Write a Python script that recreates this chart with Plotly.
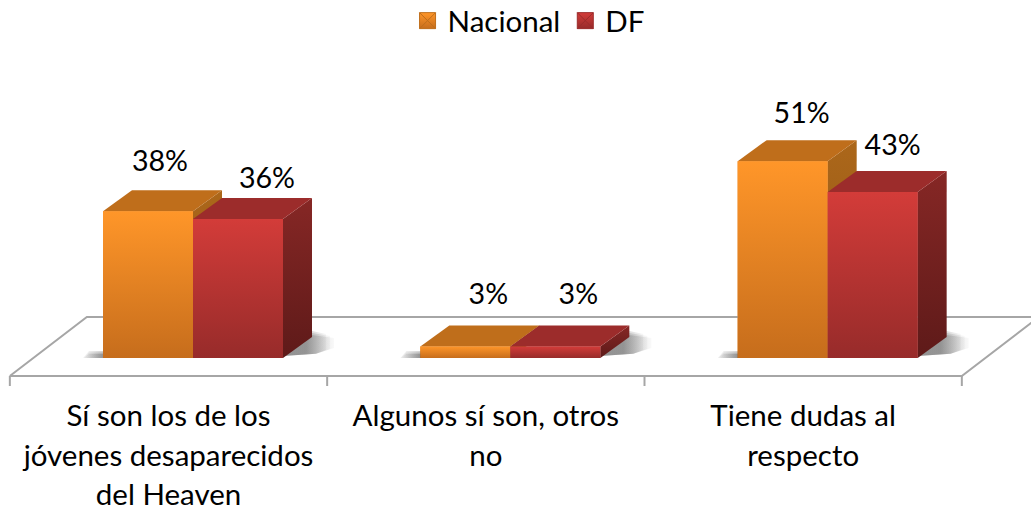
import plotly.graph_objects as go

# ---- data ----
categories = ["Sí son los de los", "jóvenes desaparecidos", "del Heaven"], ["Algunos sí son, otros", "no"], ["Tiene dudas al", "respecto"]
nacional = [38, 3, 51]
df = [36, 3, 43]
series_names = ["Nacional", "DF"]

# ---- chart geometry (pixels of the 1031x505 canvas) ----
W, H = 1031, 505
CELL = 317.33
CENTER0 = 168.5
BASE_PX = 358
PX_PER_V = 3.86
FONT = "Lato"
FS_PX = 29.5

def xu(px):   # pixel length -> x axis units
    return px / CELL
def yu(px):   # pixel length -> y axis units
    return px / PX_PER_V

BAR_W = xu(90)
OFFSET = xu(24.5)
DX, DY = xu(29), yu(21)
x_range = [(0 - CENTER0) / CELL, (W - CENTER0) / CELL]
y_range = [(BASE_PX - H) / PX_PER_V, BASE_PX / PX_PER_V]
FRONT = yu(376 - BASE_PX)   # floor front line, below the zero base

LINE = "#A6A6A6"
STYLE = {
    "Nacional": dict(top="#FF9629", bot="#C66D1C", cap="#BF6E1B", s1="#AC671A", s2="#8E5516", base="#E8841F"),
    "DF": dict(top="#D33C39", bot="#972B2A", cap="#9C2C2B", s1="#862725", s2="#5E1A19", base="#B43432"),
}
# label centres relative to bar centre / bar top, in px
label_dx = {"Nacional": [12, 23, 19], "DF": [29, 23, 20]}
label_dy = {"Nacional": [47, 50, 45], "DF": [38, 50, 44]}

fig = go.Figure()

# floor
fx0, fx1 = -0.5, 2.5
fig.add_trace(go.Scatter(
    x=[fx0, fx1, fx1 + xu(77), fx0 + xu(77), fx0],
    y=[-FRONT, -FRONT, -FRONT + yu(59), -FRONT + yu(59), -FRONT],
    mode="lines", line=dict(color=LINE, width=2), hoverinfo="skip", showlegend=False))
for t in [fx0, fx0 + 1, fx0 + 2, fx1]:
    fig.add_trace(go.Scatter(x=[t, t], y=[-FRONT, -FRONT - yu(10)], mode="lines",
                             line=dict(color=LINE, width=2), hoverinfo="skip", showlegend=False))

# bars (library bars, 3-D detail is layered on top)
for name, vals, off in [("Nacional", nacional, OFFSET - BAR_W), ("DF", df, OFFSET)]:
    fig.add_trace(go.Bar(x=[0, 1, 2], y=vals, width=BAR_W, offset=off, base=0, name=name,
                         marker=dict(color=STYLE[name]["base"], line=dict(width=0)),
                         showlegend=False))

def shadow(xs, ys, g0, g1, c0, c1):
    fig.add_trace(go.Scatter(
        x=xs, y=ys, mode="lines", line=dict(width=0), fill="toself",
        fillgradient=dict(type="horizontal", start=g0, stop=g1,
                          colorscale=[[0, c0], [1, c1]]),
        hoverinfo="skip", showlegend=False))

# soft shadows, horizontally fading to transparent
SOLID = "rgba(70,70,70,0.25)"
CLEAR = "rgba(70,70,70,0)"
for i in range(3):
    x0 = i + OFFSET - BAR_W
    x1 = i + OFFSET + BAR_W
    for k in range(3):
        t = yu(1.5 * k)
        # left of the front face
        shadow([x0 - xu(20), x0 + xu(4), x0 + xu(4), x0 - xu(14), x0 - xu(20)],
               [0, 0, yu(7) - t, yu(7) - t, 0],
               x0 - xu(22), x0, CLEAR, SOLID)
        # right of the side face
        shadow([x1, x1 + DX + xu(4), x1 + DX + xu(14 + 4 * k), x1 + DX + xu(14 + 4 * k), x1 + DX, x1],
               [yu(2), DY * 0.2, yu(8 + k), yu(24 - 2 * k), yu(27 - 2 * k), yu(2)],
               x1 + DX - xu(6), x1 + DX + xu(18 + 4 * k), SOLID, CLEAR)

def poly(xs, ys, color=None, grad=None, start=None, stop=None):
    kw = dict(x=xs, y=ys, mode="lines", line=dict(width=0), fill="toself",
              hoverinfo="skip", showlegend=False)
    if grad:
        kw["fillgradient"] = dict(type="vertical", colorscale=[[0, grad[0]], [1, grad[1]]],
                                  start=start, stop=stop)
    else:
        kw["fillcolor"] = color
    fig.add_trace(go.Scatter(**kw))

# 3-D faces
for i in range(3):
    for name, vals, off in [("Nacional", nacional, OFFSET - BAR_W), ("DF", df, OFFSET)]:
        s = STYLE[name]
        v = vals[i]
        x0 = i + off
        x1 = x0 + BAR_W
        poly([x1, x1 + DX, x1 + DX, x1, x1], [0, DY, v + DY, v, 0],
             grad=(s["s2"], s["s1"]), start=0, stop=v + DY)
        poly([x0, x0 + DX, x1 + DX, x1, x0], [v, v + DY, v + DY, v, v], color=s["cap"])
        poly([x0, x1, x1, x0, x0], [0, 0, v, v, 0],
             grad=(s["bot"], s["top"]), start=0, stop=v)

# data labels
for name, vals, off in [("Nacional", nacional, OFFSET - BAR_W), ("DF", df, OFFSET)]:
    fig.add_trace(go.Scatter(
        x=[i + off + BAR_W / 2 + xu(label_dx[name][i]) for i in range(3)],
        y=[vals[i] + yu(label_dy[name][i]) for i in range(3)],
        mode="text", text=[f"{v}%" for v in vals],
        textfont=dict(family=FONT, size=28.6, color="#000000"),
        textposition="middle center", hoverinfo="skip", showlegend=False))

# legend entries
for name in series_names:
    s = STYLE[name]
    fig.add_trace(go.Scatter(
        x=[None], y=[None], mode="markers", name=name,
        marker=dict(symbol="square-x", size=16, color=s["top"],
                    gradient=dict(type="vertical", color=s["bot"]),
                    line=dict(color=s["cap"], width=1))))

ticktext = ["<br>".join(f'<span style="font-size:{FS_PX}px">{ln}</span>' for ln in c) for c in categories]

fig.update_layout(
    width=W, height=H, margin=dict(l=0, r=0, t=0, b=0, autoexpand=False),
    paper_bgcolor="white", plot_bgcolor="white", barmode="overlay",
    font=dict(family=FONT, size=FS_PX, color="#000000"),
    legend=dict(orientation="h", x=0.3953, xanchor="left", y=1.01, yanchor="top",
                bgcolor="rgba(0,0,0,0)", font=dict(family=FONT, size=FS_PX)),
    xaxis=dict(range=x_range, tickvals=[0, 1, 2], ticktext=ticktext, ticks="",
               showgrid=False, zeroline=False, showline=False, anchor="free",
               position=1 - 376 / H, automargin=False, ticklabelstandoff=19,
               tickfont=dict(family=FONT, size=30.4, color="#000000")),
    yaxis=dict(range=y_range, visible=False, showgrid=False, zeroline=False),
)

fig.write_html("out.html", config=dict(displayModeBar=False),
               post_script="document.body.style.margin='0';")
